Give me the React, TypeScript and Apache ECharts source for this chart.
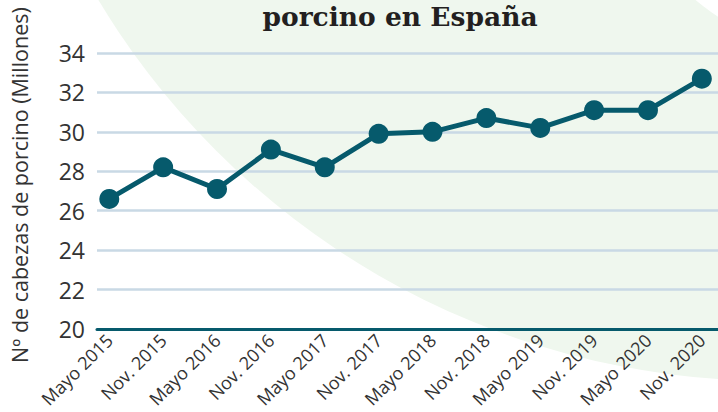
import React, { useEffect, useRef } from "react";
import * as echarts from "echarts";

const categories = [
  "Mayo 2015", "Nov. 2015", "Mayo 2016", "Nov. 2016", "Mayo 2017", "Nov. 2017",
  "Mayo 2018", "Nov. 2018", "Mayo 2019", "Nov. 2019", "Mayo 2020", "Nov. 2020",
];
const cabezas = [26.6, 28.2, 27.1, 29.1, 28.2, 29.9, 30.0, 30.7, 30.2, 31.1, 31.1, 32.7];
const yTicks = [20, 22, 24, 26, 28, 30, 32, 34];

const TEAL = "#065a6c";

export default function App() {
  const ref = useRef<HTMLDivElement>(null);
  useEffect(() => {
    if (!ref.current) return;
    const chart = echarts.init(ref.current, null, { renderer: "svg" });
    chart.setOption({
      animation: false,
      backgroundColor: "#ffffff",
      graphic: [
        { type: "circle", z: -10, silent: true, shape: { cx: 772, cy: -405, r: 786 }, style: { fill: "#eff7ee" } },
        { type: "circle", z: -9, silent: true, shape: { cx: 900, cy: -250, r: 323 }, style: { fill: "#ffffff" } },
        {
          type: "text", x: 400, y: 3, z: 10,
          style: {
            text: "porcino en España", fill: "#231f20", textAlign: "center", textVerticalAlign: "top",
            font: "bold 26.5px 'DejaVu Serif'",
          },
        },
        {
          type: "text", x: 19, y: 185, rotation: Math.PI / 2, z: 10,
          style: {
            text: "Nº de cabezas de porcino (Millones)", fill: "#333333", textAlign: "center", textVerticalAlign: "middle",
            font: "21.5px 'Open Sans'",
          },
        },
      ],
      grid: { left: 97, right: 0, top: 53, bottom: 83, containLabel: false },
      xAxis: {
        type: "value",
        min: -0.228,
        max: 11.3,
        splitLine: { show: false },
        axisTick: { show: false },
        axisLine: { show: true, onZero: false, lineStyle: { color: TEAL, width: 3 } },
        axisLabel: {
          customValues: categories.map((_, i) => i),
          formatter: (v: number) => categories[Math.round(v)] ?? "",
          rotate: 45,
          margin: 8,
          color: "#333333",
          fontFamily: "Open Sans",
          fontSize: 18,
        },
      },
      yAxis: {
        type: "value",
        min: yTicks[0],
        max: yTicks[yTicks.length - 1],
        interval: 2,
        axisLine: { show: false },
        axisTick: { show: false },
        splitLine: { lineStyle: { color: "#c9d9e5", width: 2.5 } },
        axisLabel: { color: "#333333", fontFamily: "Open Sans", fontSize: 23, margin: 12 },
      },
      series: [
        {
          type: "line",
          data: cabezas.map((v, i) => [i, v]),
          symbol: "circle",
          symbolSize: 20,
          lineStyle: { color: TEAL, width: 5 },
          itemStyle: { color: TEAL },
          z: 5,
        },
      ],
    });
    return () => chart.dispose();
  }, []);
  return <div ref={ref} style={{ width: 718, height: 412, position: "absolute", left: 0, top: 0 }} />;
}
